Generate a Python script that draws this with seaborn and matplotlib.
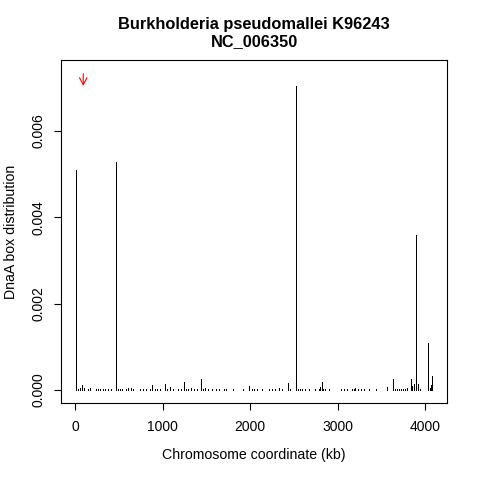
import numpy as np
import pandas as pd
import matplotlib
matplotlib.use("Agg")
import matplotlib.pyplot as plt
import seaborn as sns

# ---- data ----
title_lines = ["Burkholderia pseudomallei K96243", "NC_006350"]
x_label = "Chromosome coordinate (kb)"
y_label = "DnaA box distribution"

position_kb = [5, 26, 49, 72, 95, 148, 170, 239, 261, 284, 314, 341, 371, 405,
               466, 492, 511, 534, 576, 598, 640, 659, 739, 776, 807, 852, 875,
               909, 932, 970, 1023, 1053, 1080, 1117, 1174, 1208, 1242, 1269,
               1292, 1326, 1360, 1390, 1436, 1466, 1489, 1519, 1564, 1614, 1648,
               1701, 1720, 1799, 1913, 1992, 2015, 2040, 2080, 2140, 2216, 2254,
               2284, 2324, 2360, 2436, 2458, 2523, 2542, 2565, 2595, 2625, 2670,
               2746, 2784, 2803, 2818, 2837, 2860, 2898, 3034, 3068, 3106, 3163,
               3185, 3201, 3231, 3265, 3299, 3360, 3435, 3561, 3629, 3655, 3678,
               3701, 3724, 3746, 3769, 3792, 3833, 3849, 3871, 3890, 3920, 3947,
               4038, 4053, 4068, 4083]
dnaa_density = [0.00510, 0.00003, 0.00004, 0.00011, 0.00004, 0.00003, 0.00004,
                0.00002, 0.00002, 0.00002, 0.00002, 0.00002, 0.00002, 0.00002,
                0.00528, 0.00002, 0.00002, 0.00002, 0.00003, 0.00004, 0.00005,
                0.00003, 0.00002, 0.00002, 0.00002, 0.00003, 0.00011, 0.00002,
                0.00002, 0.00002, 0.00015, 0.00002, 0.00006, 0.00002, 0.00002,
                0.00002, 0.00019, 0.00002, 0.00003, 0.00005, 0.00002, 0.00002,
                0.00025, 0.00002, 0.00004, 0.00002, 0.00002, 0.00002, 0.00002,
                0.00002, 0.00002, 0.00002, 0.00002, 0.00009, 0.00002, 0.00002,
                0.00002, 0.00002, 0.00002, 0.00002, 0.00002, 0.00004, 0.00002,
                0.00017, 0.00002, 0.00705, 0.00003, 0.00002, 0.00002, 0.00002,
                0.00002, 0.00002, 0.00003, 0.00006, 0.00019, 0.00003, 0.00002,
                0.00002, 0.00002, 0.00002, 0.00002, 0.00002, 0.00002, 0.00004,
                0.00002, 0.00002, 0.00002, 0.00002, 0.00002, 0.00006, 0.00026,
                0.00002, 0.00002, 0.00002, 0.00003, 0.00002, 0.00002, 0.00005,
                0.00026, 0.00009, 0.00013, 0.00359, 0.00013, 0.00003, 0.00110,
                0.00004, 0.00012, 0.00033]

origin_kb = 91
arrow_top = 0.00733
arrow_tip = 0.00705

x_ticks = [0, 1000, 2000, 3000, 4000]
y_ticks = [0.000, 0.002, 0.004, 0.006]
x_limits = [-163, 4250]
y_limits = [-0.000301, 0.007648]

df = pd.DataFrame({"pos": position_kb, "val": dnaa_density})

# ---- style ----
sns.set_theme(style="ticks")
plt.rcParams["font.family"] = ["Liberation Sans", "DejaVu Sans"]

fig = plt.figure(figsize=(4.8, 4.8), dpi=100)
ax = fig.add_axes([61 / 480, 77 / 480, 386 / 480, 343 / 480])

ax.vlines(df["pos"], 0, df["val"], colors="black", linewidth=0.72,
          antialiased=False)

ax.annotate("", xy=(origin_kb, arrow_tip), xytext=(origin_kb, arrow_top),
            arrowprops=dict(arrowstyle="->,head_length=0.5,head_width=0.27",
                            color="#ff0000", lw=0.8, shrinkA=0, shrinkB=0,
                            mutation_scale=10))

ax.set_xlim(x_limits)
ax.set_ylim(y_limits)
ax.set_xticks(x_ticks)
ax.set_xticklabels([str(t) for t in x_ticks])
ax.set_yticks(y_ticks)
ax.set_yticklabels([f"{t:.3f}" for t in y_ticks], rotation=90, va="center")

for s in ax.spines.values():
    s.set_visible(True)
    s.set_color("black")
    s.set_linewidth(0.8)

ax.tick_params(axis="both", direction="out", length=5, width=0.8,
               color="black", labelsize=10, labelcolor="black")
ax.tick_params(axis="x", pad=7)
ax.tick_params(axis="y", pad=6)

ax.set_xlabel(x_label, fontsize=10.2, labelpad=10, color="black")
ax.set_ylabel(y_label, fontsize=10.2, labelpad=10, color="black")
ax.set_title("\n".join(title_lines), fontsize=11.8, fontweight="bold",
             pad=10, linespacing=1.15, color="black")
ax.grid(False)
ax.set_facecolor("white")
fig.patch.set_facecolor("white")

fig.savefig("out.png", dpi=100)
